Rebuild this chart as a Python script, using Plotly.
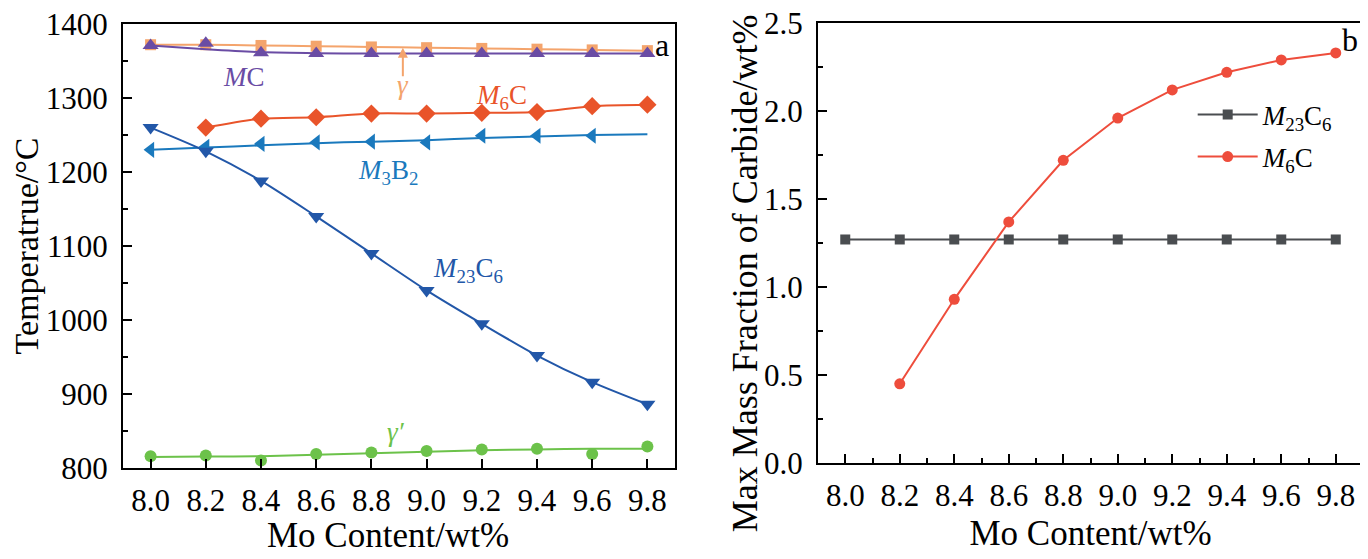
import plotly.graph_objects as go

mo = [8.0, 8.2, 8.4, 8.6, 8.8, 9.0, 9.2, 9.4, 9.6, 9.8]

# panel a: start temperatures of the phases (markers as read, curves as drawn)
gamma_t = [1372, 1372, 1371, 1370, 1369, 1368, 1367, 1366, 1365, 1364]
mc_t = [1371, 1374, 1361, 1360, 1360, 1360, 1360, 1360, 1360, 1360]
mc_curve = [1371, 1366, 1362, 1360.5, 1360, 1360, 1360, 1360, 1360, 1360]
m6c_mo = [8.2, 8.4, 8.6, 8.8, 9.0, 9.2, 9.4, 9.6, 9.8]
m6c_t = [1260, 1272, 1274, 1279, 1279, 1280, 1281, 1289, 1291]
m3b2_mo = [8.0, 8.2, 8.4, 8.6, 8.8, 9.0, 9.2, 9.4, 9.6]
m3b2_t = [1230, 1234, 1238, 1240, 1241, 1240, 1249, 1249, 1249]
m3b2_curve = [1230, 1233, 1236, 1239, 1241, 1243, 1246, 1248, 1250, 1251]
m23c6_t = [1260, 1228, 1188, 1140, 1090, 1040, 995, 952, 916, 886]
gp_t = [816, 817, 810, 819, 821, 823, 825, 826, 819, 829]
gp_curve = [815, 815.5, 816, 818, 820, 822, 824, 825, 826, 826]

# panel b: max mass fraction of carbide
m23c6_frac = [1.27, 1.27, 1.27, 1.27, 1.27, 1.27, 1.27, 1.27, 1.27, 1.27]
m6c_frac_mo = [8.2, 8.4, 8.6, 8.8, 9.0, 9.2, 9.4, 9.6, 9.8]
m6c_frac = [0.45, 0.93, 1.37, 1.72, 1.96, 2.12, 2.22, 2.29, 2.33]

c_gamma = '#F4A46C'
c_mc = '#6A4CA4'
c_m6c = '#E9542A'
c_m3b2 = '#1A79BD'
c_m23c6 = '#2257A8'
c_gp = '#6CC24A'
c_grey = '#4A4D50'
c_red = '#EE4D3C'

FONT = 'Liberation Serif'

fig = go.Figure()

def line(x, y, color, xa='x', ya='y'):
    fig.add_trace(go.Scatter(x=x, y=y, mode='lines', line=dict(color=color, width=2, shape='spline', smoothing=0.8),
                             xaxis=xa, yaxis=ya, showlegend=False, hoverinfo='skip'))

def marks(x, y, color, symbol, size=12):
    fig.add_trace(go.Scatter(x=x, y=y, mode='markers', marker=dict(color=color, symbol=symbol, size=size),
                             xaxis='x', yaxis='y', showlegend=False))

line(mo, gamma_t, c_gamma)
marks(mo, gamma_t, c_gamma, 'square', 11)
line(mo, mc_curve, c_mc)
marks(mo, mc_t, c_mc, 'triangle-up', 14)
line(m6c_mo, m6c_t, c_m6c)
marks(m6c_mo, m6c_t, c_m6c, 'diamond', 14)
line(mo, m3b2_curve, c_m3b2)
marks(m3b2_mo, m3b2_t, c_m3b2, 'triangle-left', 14)
line(mo, m23c6_t, c_m23c6)
marks(mo, m23c6_t, c_m23c6, 'triangle-down', 14)
line(mo, gp_curve, c_gp)
marks(mo, gp_t, c_gp, 'circle', 12)

fig.add_trace(go.Scatter(x=mo, y=m23c6_frac, mode='lines+markers', name='<i>M</i><sub>23</sub>C<sub>6</sub>',
                         legendgroup='a', line=dict(color=c_grey, width=2),
                         marker=dict(symbol='square', size=10, color=c_grey), xaxis='x2', yaxis='y2'))
fig.add_trace(go.Scatter(x=m6c_frac_mo, y=m6c_frac, mode='lines+markers', name='<i>M</i><sub>6</sub>C',
                         legendgroup='b', line=dict(color=c_red, width=2),
                         marker=dict(symbol='circle', size=11, color=c_red), xaxis='x2', yaxis='y2'))

labels = [
    (8.34, 1328, '<i>M</i>C', c_mc),
    (8.914, 1317, '<i>γ</i>', c_gamma),
    (9.27, 1301, '<i>M</i><sub>6</sub>C', c_m6c),
    (8.86, 1200, '<i>M</i><sub>3</sub>B<sub>2</sub>', c_m3b2),
    (9.15, 1067, '<i>M</i><sub>23</sub>C<sub>6</sub>', c_m23c6),
    (8.89, 849, '<i>γ′</i>', c_gp),
]
annotations = [dict(x=x, y=y, xref='x', yref='y', text=t, showarrow=False,
                    font=dict(family=FONT, size=27, color=c)) for x, y, t, c in labels]
annotations.append(dict(x=8.914, y=1368, xref='x', yref='y', ax=0, ay=30, text='', showarrow=True,
                        arrowhead=2, arrowsize=1, arrowwidth=2, arrowcolor=c_gamma))
annotations.append(dict(x=0.478, y=0.934, xref='paper', yref='paper', text='a', showarrow=False,
                        xanchor='center', yanchor='middle', font=dict(family=FONT, size=32, color='black')))
annotations.append(dict(x=0.981, y=0.942, xref='paper', yref='paper', text='b', showarrow=False,
                        xanchor='center', yanchor='middle', font=dict(family=FONT, size=32, color='black')))
# axis titles that sit off-centre in the original are placed as annotations
annotations.append(dict(x=0.2778, y=0.057, xref='paper', yref='paper', text='Mo Content/wt%',
                        showarrow=False, xanchor='center', yanchor='middle',
                        font=dict(family=FONT, size=35, color='black')))
annotations.append(dict(x=0.539, y=0.526, xref='paper', yref='paper', text='Max Mass Fraction of Carbide/wt%',
                        textangle=-90, showarrow=False, xanchor='center', yanchor='middle',
                        font=dict(family=FONT, size=36, color='black')))

axis_common = dict(showline=True, linecolor='black', linewidth=2, mirror=True, ticks='inside',
                   tickcolor='black', tickwidth=2, ticklen=9, showgrid=False, zeroline=False, automargin=False,
                   ticklabeloverflow='allow', tickfont=dict(family=FONT, size=31, color='black'))
minor_style = dict(ticks='inside', ticklen=5, tickwidth=2, tickcolor='black')

fig.update_layout(
    width=1368, height=559,
    margin=dict(l=0, r=0, t=0, b=0, autoexpand=False),
    paper_bgcolor='white', plot_bgcolor='white',
    font=dict(family=FONT, color='black'),
    annotations=annotations,
    xaxis=dict(domain=[0.08406, 0.48757], range=[7.9, 9.9], tick0=8.0, dtick=0.2, tickformat='.1f',
               ticklabelstandoff=4, **axis_common),
    yaxis=dict(domain=[0.17710, 0.97138], range=[800, 1400], dtick=100, ticklabelstandoff=7,
               minor=dict(dtick=50, **minor_style),
               title=dict(text='Temperatrue/°C', font=dict(family=FONT, size=34), standoff=8), **axis_common),
    xaxis2=dict(domain=[0.59211, 0.99050], range=[7.9, 9.9], tick0=8.0, dtick=0.2, tickformat='.1f', anchor='y2',
                ticklabelstandoff=4, minor=dict(dtick=0.1, **minor_style),
                title=dict(text='Mo Content/wt%', font=dict(family=FONT, size=35), standoff=8), **axis_common),
    yaxis2=dict(domain=[0.18605, 0.97316], range=[0, 2.5], dtick=0.5, tickformat='.1f', anchor='x2',
                ticklabelstandoff=7, minor=dict(dtick=0.25, **minor_style), **axis_common),
    legend=dict(x=0.866, y=0.8525, xanchor='left', yanchor='top', bgcolor='rgba(0,0,0,0)',
                font=dict(family=FONT, size=27, color='black'), tracegroupgap=4, itemwidth=60),
)

fig.write_html("out.html")
